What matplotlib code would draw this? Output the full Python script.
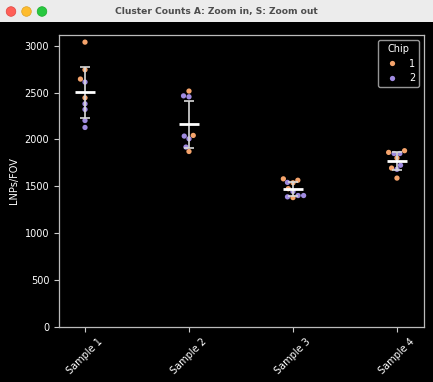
import numpy as np
import pandas as pd
import matplotlib
matplotlib.use("Agg")
import matplotlib.pyplot as plt
import seaborn as sns
from matplotlib.patches import Circle
from matplotlib.lines import Line2D

# ---------------- data ----------------
samples = ["Sample 1", "Sample 2", "Sample 3", "Sample 4"]
chips = ["1", "2"]
chip1_values = [
    [3038, 2743, 2644, 2444],
    [2516, 2043, 1872],
    [1580, 1538, 1565, 1475, 1380],
    [1862, 1880, 1802, 1695, 1588],
]
chip2_values = [
    [2612, 2380, 2320, 2202, 2128],
    [2465, 2455, 2036, 2007, 1919],
    [1542, 1445, 1388, 1402, 1402],
    [1850, 1850, 1725, 1682],
]
window_title = "Cluster Counts A: Zoom in, S: Zoom out"
ylabel = "LNPs/FOV"
legend_title = "Chip"
palette = {"1": "#f5a46c", "2": "#a08be0"}

rows = []
for s, v1, v2 in zip(samples, chip1_values, chip2_values):
    for v in v1:
        rows.append((s, "1", v))
    for v in v2:
        rows.append((s, "2", v))
df = pd.DataFrame(rows, columns=["sample", "chip", "value"])

W, H = 433, 382
fig = plt.figure(figsize=(W / 100, H / 100), dpi=100, facecolor="black")

# ---------------- window title bar ----------------
tb_h = 22
tax = fig.add_axes([0, 1 - tb_h / H, 1, tb_h / H])
tax.set_xlim(0, W)
tax.set_ylim(tb_h, 0)
tax.set_facecolor("#ececec")
tax.set_xticks([])
tax.set_yticks([])
for sp in tax.spines.values():
    sp.set_visible(False)
for cx, col, ec in [(11, "#ff5f57", "#e0443e"), (26.5, "#febc2e", "#dea123"), (42, "#28c840", "#1aab29")]:
    tax.add_patch(Circle((cx, 11.5), 4.8, facecolor=col, edgecolor=ec, lw=0.5))
tax.text(216, 11.5, window_title, ha="center", va="center", fontsize=6.6,
         fontweight="bold", color="#4d4d4d", family=["DejaVu Sans"])

# ---------------- main axes ----------------
ax = fig.add_axes([59 / W, 1 - 327 / H, (424 - 59) / W, (327 - 35) / H])
ax.set_facecolor("black")

sns.swarmplot(data=df, x="sample", y="value", hue="chip", order=samples,
              hue_order=chips, palette=palette, size=3.8, linewidth=0,
              ax=ax, zorder=2)
if ax.get_legend() is not None:
    ax.get_legend().remove()

stats = df.groupby("sample", sort=False)["value"].agg(["mean", lambda v: np.std(v)])
stats.columns = ["mean", "sd"]
stats = stats.reindex(samples)
pos = np.arange(len(samples))
ax.errorbar(pos, stats["mean"].values, yerr=stats["sd"].values, fmt="none",
            ecolor="#d9d9d9", elinewidth=1.2, capsize=3.6, capthick=1.2, zorder=3)
ax.hlines(stats["mean"].values, pos - 0.1, pos + 0.1, colors="white", lw=2, zorder=4)

ax.set_xlim(-0.25, 3.26)
ax.set_ylim(0, df["value"].max() * 1.025)
ax.set_yticks(np.arange(0, 3001, 500))
ax.set_xlabel("")
ax.set_ylabel(ylabel, color="white", fontsize=7)
ax.tick_params(axis="both", colors="#cccccc", labelcolor="white", labelsize=7,
               length=3.5, width=0.8)
ax.set_xticks(pos)
ax.set_xticklabels(samples, rotation=45)
for sp in ax.spines.values():
    sp.set_color("#bbbbbb")
    sp.set_linewidth(0.9)

handles = [Line2D([], [], marker="o", ls="", markersize=3.8, markerfacecolor=palette[c],
                  markeredgewidth=0) for c in chips]
leg = ax.legend(handles, chips, title=legend_title, loc="upper right", fontsize=7,
                title_fontsize=7, frameon=True, facecolor="black", edgecolor="#bbbbbb",
                labelcolor="white", markerfirst=True)
leg.get_title().set_color("white")

fig.savefig("out.png", dpi=100, facecolor="black")
